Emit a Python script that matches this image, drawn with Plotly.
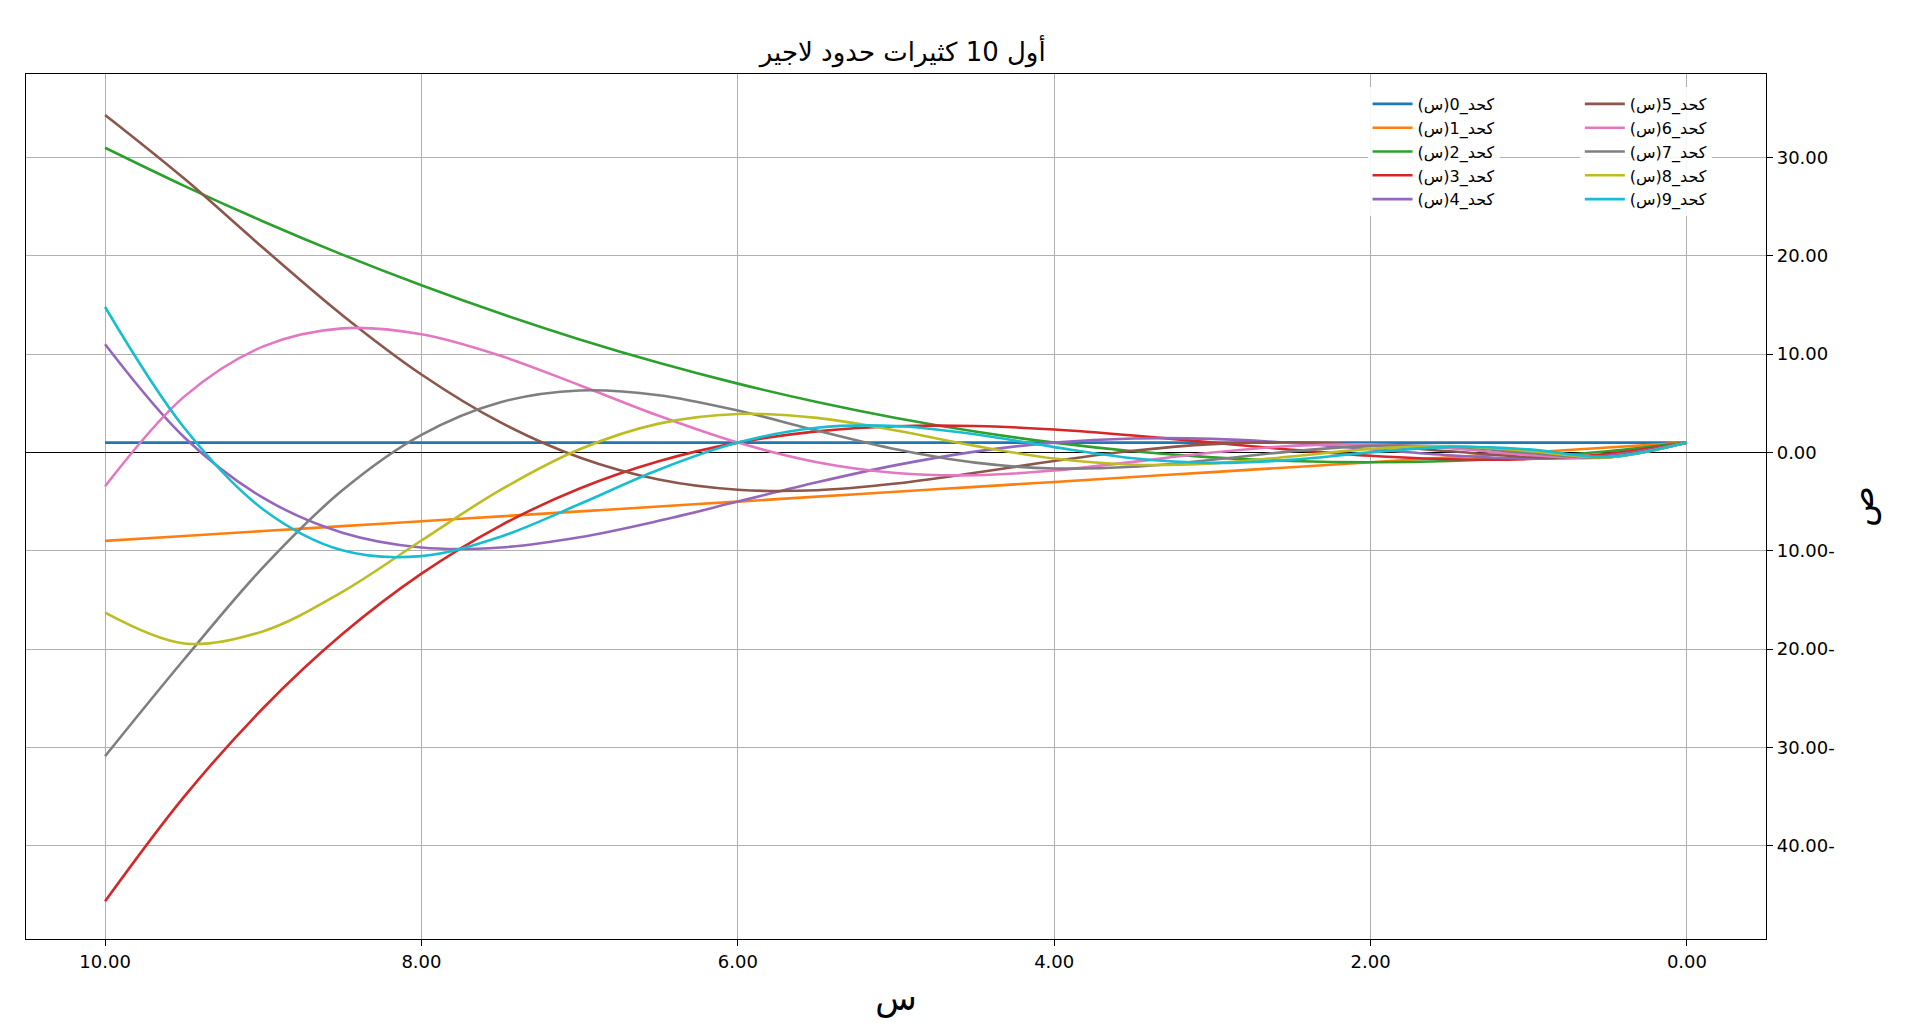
import plotly.graph_objects as go

x_vals = [0, 0.5, 1, 1.5, 2, 2.5, 3, 3.5, 4, 4.5, 5, 5.5, 6, 6.5, 7, 7.5, 8, 8.5, 9, 9.5, 10]

L0 = [1]*21
L1 = [1, 0.5, 0, -0.5, -1, -1.5, -2, -2.5, -3, -3.5, -4, -4.5, -5, -5.5, -6, -6.5, -7, -7.5, -8, -8.5, -9]
L2 = [1, 0.125, -0.5, -0.875, -1, -0.875, -0.5, 0.125, 1, 2.125, 3.5, 5.125, 7, 9.125, 11.5, 14.125, 17, 20.125, 23.5, 27.125, 31]
L3 = [1, -0.146, -0.667, -0.688, -0.333, 0.271, 1, 1.729, 2.333, 2.688, 2.667, 2.146, 1, -0.896, -3.667, -7.438, -12.333, -18.479, -26, -35.021, -45.667]
L4 = [1, -0.331, -0.625, -0.289, 0.333, 0.961, 1.375, 1.419, 1, 0.086, -1.292, -3.039, -5, -6.956, -8.625, -9.664, -9.667, -8.164, -4.625, 1.544, 11]
L5 = [1, -0.446, -0.467, 0.116, 0.733, 1.033, 0.85, 0.178, -0.867, -2.073, -3.167, -3.844, -3.8, -2.761, -0.517, 3.051, 7.933, 13.967, 20.8, 27.862, 34.333]
L6 = [1, -0.504, -0.257, 0.425, 0.822, 0.662, -0.013, -0.960, -1.844, -2.317, -2.090, -0.991, 1, 3.726, 6.843, 9.833, 12.022, 12.623, 10.788, 5.679, -3.444]
L7 = [1, -0.518, -0.040, 0.599, 0.663, 0.108, -0.746, -1.456, -1.629, -1.037, 0.325, 2.233, 4.257, 5.826, 6.308, 5.111, 1.787, -3.857, -11.664, -21.043, -30.905]
L8 = [1, -0.498, 0.154, 0.638, 0.359, -0.411, -1.109, -1.252, -0.625, 0.666, 2.236, 3.519, 3.914, 2.930, 0.321, -3.812, -8.956, -14.179, -18.187, -19.436, -16.302]
L9 = [1, -0.453, 0.310, 0.567, 0.008, -0.757, -1.061, -0.585, 0.544, 1.847, 2.692, 2.511, 1.0, -1.760, -5.251, -8.567, -10.544, -9.963, -5.798, 2.508, 14.792]

series = [L0, L1, L2, L3, L4, L5, L6, L7, L8, L9]
colors = ["#1f77b4", "#ff7f0e", "#2ca02c", "#d62728", "#9467bd",
          "#8c564b", "#e377c2", "#7f7f7f", "#bcbd22", "#17becf"]
names = [f"كحد_{i}(س)" for i in range(10)]

y_ticks = [-40, -30, -20, -10, 0, 10, 20, 30]
y_text = [f"{abs(v):.2f}-" if v < 0 else f"{v:.2f}" for v in y_ticks]
x_ticks = [0, 2, 4, 6, 8, 10]
x_text = [f"{v:.2f}" for v in x_ticks]

fig = go.Figure()
for i in range(10):
    fig.add_trace(go.Scatter(x=x_vals, y=series[i], mode="lines", name=names[i],
                             legend="legend" if i < 5 else "legend2",
                             line=dict(color=colors[i], width=2.6, shape="spline")))

axis_common = dict(showline=True, linecolor="black", linewidth=1.2, mirror=True,
                   showgrid=True, gridcolor="#b0b0b0", gridwidth=1,
                   ticks="outside", ticklen=6, tickcolor="black",
                   tickfont=dict(size=18, color="black"))
leg_common = dict(y=0.985, yanchor="top", xanchor="left", orientation="v",
                  bgcolor="rgba(255,255,255,0.9)", font=dict(size=16),
                  tracegroupgap=0, itemwidth=40)
fig.update_layout(
    width=1920, height=1033,
    paper_bgcolor="white", plot_bgcolor="white",
    font=dict(family="DejaVu Sans", color="black"),
    margin=dict(l=18, r=162, t=66, b=102),
    title=dict(text="أول 10 كثيرات حدود لاجير", x=0.466, xanchor="center", y=0.966,
               font=dict(size=26)),
    xaxis=dict(range=[10.5, -0.5], tickvals=x_ticks, ticktext=x_text,
               title=dict(text="س", font=dict(size=34)), zeroline=False, **axis_common),
    yaxis=dict(range=[-49.5, 38.5], tickvals=y_ticks, ticktext=y_text, side="right",
               title=dict(text="ص", font=dict(size=34)), zeroline=True,
               zerolinecolor="black", zerolinewidth=1.2, **axis_common),
    legend=dict(x=0.771, **leg_common),
    legend2=dict(x=0.893, **leg_common),
    showlegend=True,
)
fig.write_html("out.html")
